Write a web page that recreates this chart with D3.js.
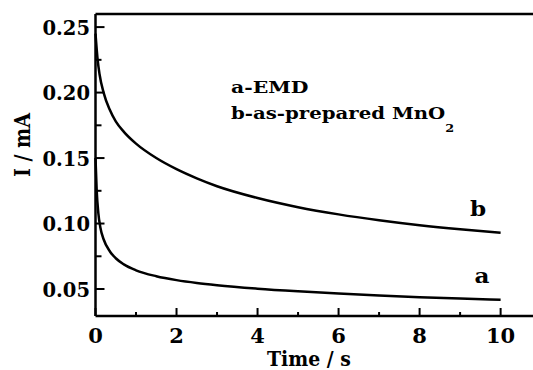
<!DOCTYPE html>
<html>
<head>
<meta charset="utf-8">
<script src="https://cdn.jsdelivr.net/npm/d3@7"></script>
<style>
	body { margin: 0; background: #fff; }
	svg { display: block; }
</style>
</head>
<body>
<div id="chart"></div>
<script>
// Chronoamperometry curves

var timeA = [0, 0.03, 0.07, 0.12, 0.2, 0.36, 0.5, 0.7, 1, 1.5, 2, 2.5, 3, 4, 5, 6, 7, 8, 9, 10];
var currentA = [0.150, 0.125, 0.108, 0.097, 0.088, 0.0785, 0.0735, 0.0688, 0.0643, 0.0598, 0.0568, 0.0546, 0.0529, 0.0503, 0.0483, 0.0466, 0.0451, 0.0438, 0.0427, 0.0418];

var timeB = [0, 0.05, 0.1, 0.2, 0.35, 0.5, 0.7, 1, 1.5, 2, 2.5, 3, 4, 5, 6, 7, 8, 9, 10];
var currentB = [0.245, 0.226, 0.214, 0.200, 0.187, 0.178, 0.170, 0.161, 0.150, 0.1415, 0.1345, 0.1285, 0.1195, 0.1125, 0.107, 0.1025, 0.0987, 0.0956, 0.093];

var xTicks = [0, 2, 4, 6, 8, 10];
var xMinor = [1, 3, 5, 7, 9];
var yTicks = [0.05, 0.10, 0.15, 0.20, 0.25];
var yMinor = [0.075, 0.125, 0.175, 0.225];

var width = 533;
var height = 370;
var margin = {left: 95.5, top: 14, right: 2, bottom: 54};
var fontFamily = "DejaVu Serif";

var x = d3.scaleLinear()
	.domain([0, 10.75])
	.range([margin.left, width - margin.right]);

var y = d3.scaleLinear()
	.domain([0.0294, 0.26])
	.range([height - margin.bottom, margin.top]);

var svg = d3.select("#chart")
	.append("svg")
	.attr("width", width)
	.attr("height", height);

// bold serif text, squeezed or widened horizontally to fit the figure
function addText(parent, px, py, str, size, anchor, sx){
	return parent.append("text")
		.attr("transform", "translate(" + px + "," + py + ") scale(" + sx + ",1)")
		.style("font-family", fontFamily)
		.attr("font-weight", "bold")
		.attr("font-size", size + "px")
		.attr("text-anchor", anchor)
		.text(str);
}

// frame: left, bottom and top lines
svg.append("line")
	.attr("x1", x(0)).attr("x2", x(0))
	.attr("y1", y.range()[1]).attr("y2", y.range()[0])
	.style("stroke", "#000").style("stroke-width", 2.5);
svg.append("line")
	.attr("x1", x(0)).attr("x2", width)
	.attr("y1", y.range()[0]).attr("y2", y.range()[0])
	.style("stroke", "#000").style("stroke-width", 2.5);
svg.append("line")
	.attr("x1", x(0)).attr("x2", width)
	.attr("y1", y.range()[1]).attr("y2", y.range()[1])
	.style("stroke", "#000").style("stroke-width", 2.5);

// x ticks (inward)
var xAxis = svg.append("g");
xAxis.selectAll(".major")
	.data(xTicks)
	.enter()
	.append("line")
	.attr("x1", d => x(d)).attr("x2", d => x(d))
	.attr("y1", y.range()[0]).attr("y2", y.range()[0] - 8)
	.style("stroke", "#000").style("stroke-width", 2);
xAxis.selectAll(".minor")
	.data(xMinor)
	.enter()
	.append("line")
	.attr("x1", d => x(d)).attr("x2", d => x(d))
	.attr("y1", y.range()[0]).attr("y2", y.range()[0] - 4)
	.style("stroke", "#000").style("stroke-width", 2);
xTicks.forEach(function(d){
	addText(xAxis, x(d), 343, d3.format("d")(d), 21, "middle", 1.0);
});

// y ticks (inward)
var yAxis = svg.append("g");
yAxis.selectAll(".major")
	.data(yTicks)
	.enter()
	.append("line")
	.attr("x1", x(0)).attr("x2", x(0) + 9)
	.attr("y1", d => y(d)).attr("y2", d => y(d))
	.style("stroke", "#000").style("stroke-width", 2);
yAxis.selectAll(".minor")
	.data(yMinor)
	.enter()
	.append("line")
	.attr("x1", x(0)).attr("x2", x(0) + 6)
	.attr("y1", d => y(d)).attr("y2", d => y(d))
	.style("stroke", "#000").style("stroke-width", 2);
yTicks.forEach(function(d){
	addText(yAxis, 90, y(d) + 7.6, d3.format(".2f")(d), 21, "end", 0.93);
});

// axis titles
addText(svg, 309, 366, "Time / s", 21, "middle", 0.9);
svg.append("text")
	.attr("transform", "translate(30,145) rotate(-90) scale(1,1.2)")
	.style("font-family", fontFamily)
	.attr("font-weight", "bold")
	.attr("font-size", "19px")
	.attr("text-anchor", "middle")
	.text("I / mA");

// curves
var line = d3.line()
	.x(d => x(d[0]))
	.y(d => y(d[1]))
	.curve(d3.curveMonotoneX);

svg.append("path")
	.datum(d3.zip(timeA, currentA))
	.attr("d", line)
	.style("fill", "none").style("stroke", "#000").style("stroke-width", 2.5);

svg.append("path")
	.datum(d3.zip(timeB, currentB))
	.attr("d", line)
	.style("fill", "none").style("stroke", "#000").style("stroke-width", 2.5);

// curve labels
addText(svg, 478, 216, "b", 21, "middle", 1.1);
addText(svg, 482, 283, "a", 21, "middle", 1.1);

// annotation
addText(svg, 231, 93, "a-EMD", 17, "start", 1.2);
var note = addText(svg, 231, 118.5, "b-as-prepared MnO", 17, "start", 1.16);
note.append("tspan")
	.attr("font-size", "11px")
	.attr("dy", 14)
	.text("2");
</script>
</body>
</html>
